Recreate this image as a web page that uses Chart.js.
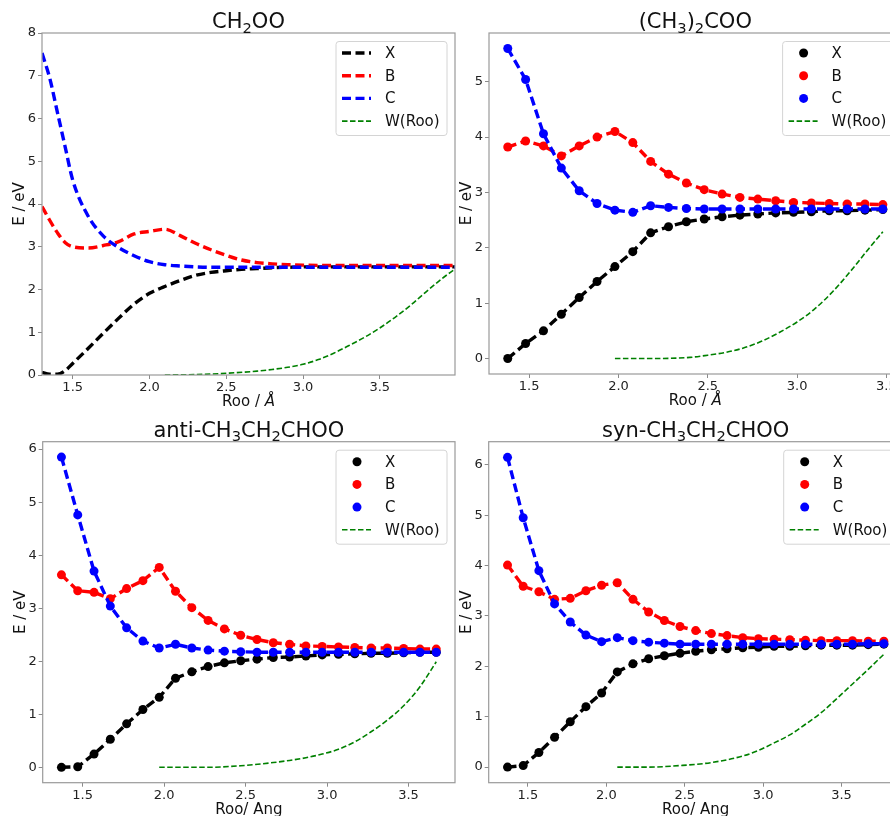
<!DOCTYPE html>
<html>
<head>
<meta charset="utf-8">
<script src="https://cdn.jsdelivr.net/npm/chart.js@4.4.1/dist/chart.umd.min.js"></script>
<style>
    html, body { margin: 0; padding: 0; background: #fff; overflow: hidden; width: 890px; height: 816px; }
    #fig { position: relative; width: 890px; height: 816px; overflow: hidden; }
    canvas { position: absolute; }
</style>
</head>
<body>
<div id="fig">
    <canvas id="p1" width="460" height="415" style="left:0px;top:0px"></canvas>
    <canvas id="p2" width="460" height="415" style="left:450px;top:0px"></canvas>
    <canvas id="p3" width="460" height="408" style="left:0px;top:408px"></canvas>
    <canvas id="p4" width="460" height="408" style="left:450px;top:408px"></canvas>
</div>
<script>
// ===== DATA =====
// CH2OO (smooth curves)
const p1Roo = [1.30, 1.35, 1.40, 1.45, 1.50, 1.60, 1.70, 1.80, 1.90, 2.00, 2.10, 2.20, 2.30, 2.40, 2.50, 2.60, 2.70, 2.80, 2.90, 3.00, 3.25, 3.50, 3.75, 3.99];
const p1X = [0.06, 0.02, 0.02, 0.10, 0.27, 0.62, 0.98, 1.33, 1.66, 1.91, 2.07, 2.21, 2.33, 2.40, 2.44, 2.47, 2.49, 2.51, 2.52, 2.53, 2.53, 2.53, 2.53, 2.53];
const p1B = [3.94, 3.62, 3.33, 3.10, 3.00, 2.97, 3.03, 3.12, 3.30, 3.36, 3.41, 3.26, 3.08, 2.93, 2.80, 2.69, 2.63, 2.60, 2.58, 2.57, 2.56, 2.56, 2.56, 2.56];
const p1C = [7.53, 6.95, 6.15, 5.35, 4.56, 3.72, 3.25, 2.98, 2.79, 2.65, 2.58, 2.55, 2.53, 2.52, 2.52, 2.52, 2.52, 2.52, 2.52, 2.52, 2.52, 2.52, 2.52, 2.52];
const p1WRoo = [2.10, 2.30, 2.50, 2.70, 2.80, 2.90, 3.00, 3.10, 3.20, 3.30, 3.40, 3.50, 3.60, 3.70, 3.80, 3.90, 3.99];
const p1W = [0.00, 0.01, 0.04, 0.09, 0.13, 0.18, 0.25, 0.36, 0.51, 0.69, 0.88, 1.10, 1.35, 1.63, 1.94, 2.24, 2.48];

// (CH3)2COO
const p2Roo = [1.38, 1.48, 1.58, 1.68, 1.78, 1.88, 1.98, 2.08, 2.18, 2.28, 2.38, 2.48, 2.58, 2.68, 2.78, 2.88, 2.98, 3.08, 3.18, 3.28, 3.38, 3.48];
const p2X = [0.00, 0.27, 0.50, 0.80, 1.10, 1.39, 1.66, 1.93, 2.27, 2.38, 2.47, 2.52, 2.56, 2.59, 2.61, 2.63, 2.64, 2.65, 2.67, 2.67, 2.68, 2.69];
const p2B = [3.82, 3.93, 3.84, 3.66, 3.84, 4.00, 4.10, 3.90, 3.56, 3.33, 3.17, 3.05, 2.97, 2.91, 2.88, 2.85, 2.82, 2.81, 2.80, 2.79, 2.79, 2.78];
const p2C = [5.60, 5.04, 4.06, 3.44, 3.03, 2.80, 2.68, 2.64, 2.76, 2.73, 2.71, 2.70, 2.70, 2.70, 2.70, 2.70, 2.70, 2.70, 2.70, 2.70, 2.70, 2.70];
const p2WRoo = [1.98, 2.20, 2.40, 2.50, 2.60, 2.70, 2.80, 2.90, 3.00, 3.10, 3.20, 3.30, 3.40, 3.48];
const p2W = [0.00, 0.00, 0.02, 0.06, 0.11, 0.19, 0.31, 0.47, 0.66, 0.90, 1.21, 1.58, 1.98, 2.29];

// anti-CH3CH2CHOO
const p3Roo = [1.37, 1.47, 1.57, 1.67, 1.77, 1.87, 1.97, 2.07, 2.17, 2.27, 2.37, 2.47, 2.57, 2.67, 2.77, 2.87, 2.97, 3.07, 3.17, 3.27, 3.37, 3.47, 3.57, 3.67];
const p3X = [0.00, 0.01, 0.25, 0.53, 0.82, 1.09, 1.32, 1.68, 1.80, 1.90, 1.97, 2.01, 2.04, 2.07, 2.08, 2.10, 2.12, 2.13, 2.14, 2.15, 2.15, 2.16, 2.17, 2.17];
const p3B = [3.63, 3.33, 3.30, 3.18, 3.37, 3.52, 3.77, 3.32, 3.01, 2.77, 2.61, 2.49, 2.41, 2.35, 2.32, 2.29, 2.28, 2.27, 2.26, 2.25, 2.25, 2.24, 2.23, 2.23];
const p3C = [5.85, 4.76, 3.70, 3.04, 2.63, 2.38, 2.25, 2.32, 2.25, 2.21, 2.19, 2.18, 2.17, 2.17, 2.17, 2.17, 2.17, 2.17, 2.17, 2.17, 2.17, 2.17, 2.17, 2.17];
const p3WRoo = [1.97, 2.27, 2.47, 2.67, 2.77, 2.87, 2.97, 3.07, 3.17, 3.27, 3.37, 3.47, 3.57, 3.67];
const p3W = [0.00, 0.00, 0.03, 0.09, 0.13, 0.18, 0.25, 0.34, 0.48, 0.67, 0.89, 1.16, 1.52, 1.99];

// syn-CH3CH2CHOO
const p4Roo = [1.37, 1.47, 1.57, 1.67, 1.77, 1.87, 1.97, 2.07, 2.17, 2.27, 2.37, 2.47, 2.57, 2.67, 2.77, 2.87, 2.97, 3.07, 3.17, 3.27, 3.37, 3.47, 3.57, 3.67, 3.77];
const p4X = [0.00, 0.03, 0.29, 0.59, 0.90, 1.20, 1.47, 1.89, 2.05, 2.15, 2.21, 2.26, 2.30, 2.33, 2.35, 2.37, 2.38, 2.40, 2.40, 2.41, 2.42, 2.42, 2.42, 2.43, 2.44];
const p4B = [4.01, 3.59, 3.48, 3.33, 3.35, 3.50, 3.61, 3.66, 3.33, 3.08, 2.91, 2.79, 2.71, 2.65, 2.61, 2.57, 2.55, 2.54, 2.53, 2.52, 2.51, 2.51, 2.51, 2.50, 2.50];
const p4C = [6.15, 4.95, 3.90, 3.24, 2.88, 2.62, 2.49, 2.57, 2.51, 2.48, 2.46, 2.44, 2.44, 2.44, 2.44, 2.44, 2.44, 2.44, 2.44, 2.44, 2.44, 2.44, 2.44, 2.45, 2.45];
const p4WRoo = [2.07, 2.27, 2.47, 2.67, 2.87, 2.97, 3.07, 3.17, 3.27, 3.37, 3.47, 3.57, 3.67, 3.77];
const p4W = [0.00, 0.00, 0.03, 0.09, 0.22, 0.33, 0.48, 0.64, 0.85, 1.08, 1.36, 1.65, 1.94, 2.24];

const xTicks = [1.5, 2.0, 2.5, 3.0, 3.5];
const p1YTicks = [0, 1, 2, 3, 4, 5, 6, 7, 8];
const p2YTicks = [0, 1, 2, 3, 4, 5];
const p3YTicks = [0, 1, 2, 3, 4, 5, 6];
const p4YTicks = [0, 1, 2, 3, 4, 5, 6];

const seriesNames = ["X", "B", "C", "W(Roo)"];

// ===== HELPERS =====
const FONT = "'DejaVu Sans', 'Noto Sans', sans-serif";

function pts(xs, ys) {
    return xs.map((x, i) => ({ x: x, y: ys[i] }));
}

// segments: [text, sub?, italic?]
function drawRich(ctx, segs, cx, baseline, size) {
    const fontFor = (s) => (s[2] ? "italic " : "") + (s[1] ? size * 0.7 : size) + "px " + FONT;
    let total = 0;
    segs.forEach((s) => {
        ctx.font = fontFor(s);
        total += ctx.measureText(s[0]).width;
    });
    let x = cx - total / 2;
    ctx.textAlign = "left";
    ctx.textBaseline = "alphabetic";
    ctx.fillStyle = "#111";
    segs.forEach((s) => {
        ctx.font = fontFor(s);
        ctx.fillText(s[0], x, baseline + (s[1] ? size * 0.22 : 0));
        x += ctx.measureText(s[0]).width;
    });
}

// frame, titles, legend
const panelDecor = {
    id: "panelDecor",
    afterDraw(chart, args, opts) {
        const ctx = chart.ctx;
        const a = chart.chartArea;
        ctx.save();

        ctx.strokeStyle = "#9a9a9a";
        ctx.lineWidth = 1.2;
        ctx.setLineDash([]);
        ctx.strokeRect(a.left, a.top, a.right - a.left, a.bottom - a.top);

        drawRich(ctx, opts.title, (a.left + a.right) / 2, a.top - 5, 21);
        drawRich(ctx, opts.xLabel, (a.left + a.right) / 2, a.bottom + 31, 15);

        ctx.save();
        ctx.translate(a.left - 22, (a.top + a.bottom) / 2);
        ctx.rotate(-Math.PI / 2);
        ctx.textAlign = "center";
        ctx.textBaseline = "middle";
        ctx.font = "15px " + FONT;
        ctx.fillStyle = "#111";
        ctx.fillText("E / eV", 0, 0);
        ctx.restore();

        // legend box
        const bw = 111, bh = 94;
        const bx = a.right - 8 - bw, by = a.top + 8.5;
        ctx.beginPath();
        ctx.roundRect(bx, by, bw, bh, 3);
        ctx.fillStyle = "rgba(255,255,255,0.85)";
        ctx.fill();
        ctx.strokeStyle = "#d4d4d4";
        ctx.lineWidth = 1;
        ctx.stroke();

        chart.data.datasets.forEach((ds, i) => {
            const ry = by + 11.5 + i * 22.7;
            if (opts.markers && ds.pointRadius > 0) {
                ctx.beginPath();
                ctx.arc(bx + 21, ry, 4.5, 0, Math.PI * 2);
                ctx.fillStyle = ds.borderColor;
                ctx.fill();
            } else {
                ctx.beginPath();
                ctx.setLineDash(ds.borderDash);
                ctx.strokeStyle = ds.borderColor;
                ctx.lineWidth = ds.borderWidth;
                ctx.moveTo(bx + 6, ry);
                ctx.lineTo(bx + 35, ry);
                ctx.stroke();
                ctx.setLineDash([]);
            }
            ctx.font = "15px " + FONT;
            ctx.fillStyle = "#111";
            ctx.textAlign = "left";
            ctx.textBaseline = "middle";
            ctx.fillText(ds.label, bx + 49, ry + 1);
        });

        ctx.restore();
    },
};

function makeDataset(label, xs, ys, color, order, markers, smooth) {
    const isW = label === "W(Roo)";
    return {
        label: label,
        data: pts(xs, ys),
        borderColor: color,
        backgroundColor: color,
        borderWidth: isW ? 1.6 : 3.4,
        borderDash: isW ? [5.5, 2.5] : [9, 4.5],
        pointRadius: markers && !isW ? 4.5 : 0,
        pointBorderWidth: 0,
        pointBackgroundColor: color,
        cubicInterpolationMode: smooth ? "monotone" : "default",
        tension: 0,
        fill: false,
        order: order,
    };
}

function makeChart(id, p) {
    const canvas = document.getElementById(id);
    const w = canvas.width, h = canvas.height;
    const datasets = [
        makeDataset(seriesNames[0], p.roo, p.X, "#000000", 4, p.markers, p.smooth),
        makeDataset(seriesNames[1], p.roo, p.B, "#ff0000", 3, p.markers, p.smooth),
        makeDataset(seriesNames[2], p.roo, p.C, "#0000ff", 2, p.markers, p.smooth),
        makeDataset(seriesNames[3], p.wRoo, p.W, "#008000", 1, p.markers, true),
    ];
    const tickFont = { family: FONT, size: 13 };
    return new Chart(canvas.getContext("2d"), {
        type: "line",
        data: { datasets: datasets },
        options: {
            responsive: false,
            animation: false,
            devicePixelRatio: 1,
            layout: { padding: { top: p.area.t, right: w - p.area.r, left: 0, bottom: 0 } },
            plugins: {
                legend: { display: false },
                tooltip: { enabled: false },
                title: { display: false },
                panelDecor: { title: p.title, xLabel: p.xLabel, markers: p.markers },
            },
            scales: {
                x: {
                    type: "linear",
                    min: p.xMin,
                    max: p.xMax,
                    afterBuildTicks: (s) => { s.ticks = xTicks.map((v) => ({ value: v })); },
                    afterFit: (s) => { s.height = h - p.area.b; },
                    ticks: {
                        callback: (v) => Number(v).toFixed(1),
                        font: tickFont,
                        color: "#222",
                        padding: 1,
                        maxRotation: 0,
                        autoSkip: false,
                    },
                    grid: { drawOnChartArea: false, tickLength: 4, color: "#8a8a8a" },
                    border: { display: false },
                },
                y: {
                    type: "linear",
                    min: p.yMin,
                    max: p.yMax,
                    afterBuildTicks: (s) => { s.ticks = p.yTicks.map((v) => ({ value: v })); },
                    afterFit: (s) => { s.width = p.area.l; },
                    ticks: {
                        callback: (v) => String(v),
                        font: tickFont,
                        color: "#222",
                        padding: 2,
                        autoSkip: false,
                    },
                    grid: { drawOnChartArea: false, tickLength: 4, color: "#8a8a8a" },
                    border: { display: false },
                },
            },
        },
        plugins: [panelDecor],
    });
}

// ===== INIT =====
makeChart("p1", {
    roo: p1Roo, X: p1X, B: p1B, C: p1C, wRoo: p1WRoo, W: p1W,
    xMin: 1.3, xMax: 3.99, yMin: 0, yMax: 8, yTicks: p1YTicks,
    area: { l: 42, t: 33, r: 455, b: 375 },
    markers: false, smooth: true,
    title: [["CH"], ["2", true], ["OO"]],
    xLabel: [["Roo / "], ["Å", false, true]],
});

makeChart("p2", {
    roo: p2Roo, X: p2X, B: p2B, C: p2C, wRoo: p2WRoo, W: p2W,
    xMin: 1.275, xMax: 3.585, yMin: -0.28, yMax: 5.88, yTicks: p2YTicks,
    area: { l: 39, t: 33, r: 451.6, b: 374 },
    markers: true, smooth: false,
    title: [["(CH"], ["3", true], [")"], ["2", true], ["COO"]],
    xLabel: [["Roo / "], ["Å", false, true]],
});

makeChart("p3", {
    roo: p3Roo, X: p3X, B: p3B, C: p3C, wRoo: p3WRoo, W: p3W,
    xMin: 1.255, xMax: 3.785, yMin: -0.29, yMax: 6.14, yTicks: p3YTicks,
    area: { l: 42.7, t: 33.7, r: 455, b: 374.7 },
    markers: true, smooth: false,
    title: [["anti-CH"], ["3", true], ["CH"], ["2", true], ["CHOO"]],
    xLabel: [["Roo/ Ang"]],
});

makeChart("p4", {
    roo: p4Roo, X: p4X, B: p4B, C: p4C, wRoo: p4WRoo, W: p4W,
    xMin: 1.25, xMax: 3.89, yMin: -0.31, yMax: 6.46, yTicks: p4YTicks,
    area: { l: 38.7, t: 33.7, r: 452.7, b: 374.7 },
    markers: true, smooth: false,
    title: [["syn-CH"], ["3", true], ["CH"], ["2", true], ["CHOO"]],
    xLabel: [["Roo/ Ang"]],
});
</script>
</body>
</html>
